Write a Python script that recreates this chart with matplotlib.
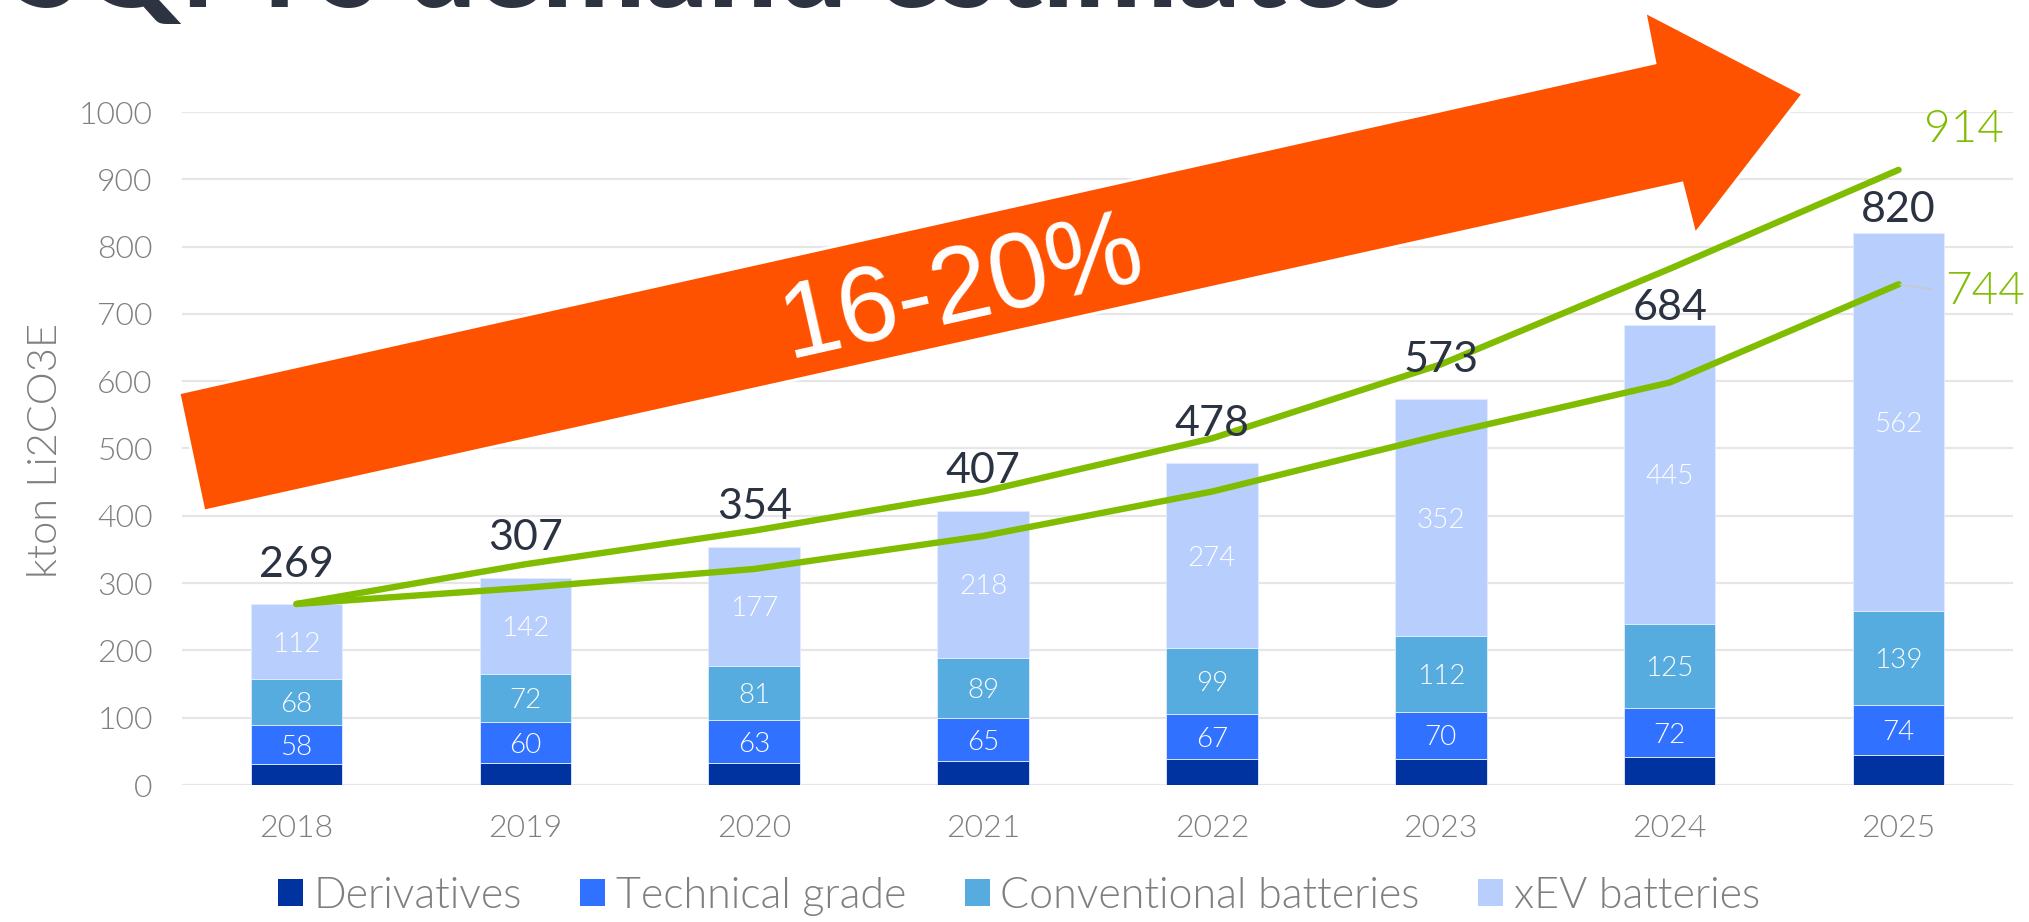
import matplotlib
matplotlib.use("Agg")
import matplotlib.pyplot as plt
import numpy as np
from matplotlib.patches import Polygon, Patch

# data (kton Li2CO3E)
years = ["2018", "2019", "2020", "2021", "2022", "2023", "2024", "2025"]
derivatives = [31, 33, 33, 35, 38, 39, 42, 45]
technical = [58, 60, 63, 65, 67, 70, 72, 74]
conventional = [68, 72, 81, 89, 99, 112, 125, 139]
xev = [112, 142, 177, 218, 274, 352, 445, 562]
totals = [269, 307, 354, 407, 478, 573, 684, 820]
high_case = [269, 328, 378, 436, 515, 625, 767, 914]
low_case = [269, 293, 321, 370, 436, 520, 598, 744]
series_names = ["Derivatives", "Technical grade", "Conventional batteries", "xEV batteries"]
growth_text = "16-20%"
title = "SQM's demand estimates"

colors = ["#0033A0", "#3072FF", "#56ABDF", "#B8CEFC"]
green = "#80BC00"
grey = "#7F7F7F"
dark = "#2B3242"
orange = "#FF5200"
LIGHT = 300  # Lato Light (the named 'light' picks Lato Thin)

W, H = 2029, 922
plt.rcParams["font.family"] = ["Lato", "DejaVu Sans"]

fig = plt.figure(figsize=(W / 100, H / 100), dpi=100)
ax = fig.add_axes([182 / W, 1 - 785 / H, 1831 / W, 673 / H])

x = np.arange(len(years))
bottom = np.zeros(len(years))
for vals, col, name in zip([derivatives, technical, conventional, xev], colors, series_names):
    ax.bar(x, vals, 0.4, bottom=bottom, color=col, edgecolor="#E4ECFF", linewidth=0.6, zorder=2)
    if name != "Derivatives":
        for xi, b, v in zip(x, bottom, vals):
            ax.annotate(str(v), xy=(xi, b + v / 2), xytext=(0, -10), textcoords="offset pixels",
                        ha="center", va="baseline", color="white",
                        fontsize=20, fontweight=LIGHT, zorder=4)
    bottom += np.array(vals)

# totals above the bars (gap to baseline in px; the last two sit lower, as in the original)
label_gap = [27, 28, 28, 28, 27, 27, 5, 11]
for xi, t, p in zip(x, totals, label_gap):
    ax.annotate(str(t), xy=(xi, t), xytext=(0, p), textcoords="offset pixels",
                ha="center", va="baseline", fontsize=31, color=dark, zorder=5)

ax.plot(x, high_case, color=green, lw=4.6, zorder=3, solid_capstyle="round", solid_joinstyle="round")
ax.plot(x, low_case, color=green, lw=4.6, zorder=3, solid_capstyle="round", solid_joinstyle="round")
ax.annotate(str(high_case[-1]), xy=(x[-1], high_case[-1]), xytext=(25, 40), textcoords="offset pixels",
            ha="left", va="center", fontsize=33, fontweight=LIGHT, color=green, annotation_clip=False)
ax.annotate(str(low_case[-1]), xy=(x[-1], low_case[-1]), xytext=(47, -7), textcoords="offset pixels",
            ha="left", va="center", fontsize=33, fontweight=LIGHT, color=green, annotation_clip=False,
            arrowprops=dict(arrowstyle="-", color="#C8C8C8", lw=1, shrinkA=7, shrinkB=1, relpos=(0, 0.5)))

ax.set_xlim(-0.5, len(years) - 0.5)
ax.set_ylim(0, 1000)
ax.set_yticks(range(0, 1001, 100))
ax.set_xticks(x)
ax.set_xticklabels(years)
ax.grid(axis="y", color="#E6E6E6", lw=1.6)
ax.set_axisbelow(True)
for s in ax.spines.values():
    s.set_visible(False)
ax.tick_params(axis="y", length=0, labelsize=23, labelcolor=grey, pad=21)
ax.tick_params(axis="x", length=0, labelsize=23, labelcolor=grey, pad=21)
for lab in ax.get_xticklabels() + ax.get_yticklabels():
    lab.set_fontweight(LIGHT)

fig.text(46 / W, 1 - 450 / H, "kton Li2CO3E", rotation=90, ha="center", va="center",
         fontsize=30, fontweight=LIGHT, color=grey)

# big orange growth arrow (figure pixel outline)
arrow_px = [(179, 393), (1655, 63), (1645, 12), (1803, 94), (1695, 234), (1682, 183), (204, 511)]
arrow = Polygon([(px / W, 1 - py / H) for px, py in arrow_px], closed=True,
                transform=fig.transFigure, facecolor=orange, edgecolor="white", lw=2, zorder=6)
fig.add_artist(arrow)
fig.text(789 / W, 1 - 358 / H, growth_text, rotation=12.7, rotation_mode="anchor",
         ha="left", va="baseline", fontsize=77, color="white",
         family=["Liberation Sans", "DejaVu Sans"], zorder=7)

# title, mostly cut off by the top edge
t = fig.text(14 / W, 1 - 7 / H, title, ha="left", va="baseline", fontsize=80,
             fontweight="black", color="#2D3340")
fig.canvas.draw()
w = t.get_window_extent().width
t.set_fontsize(80 * 1392 / w)

handles = [Patch(facecolor=c, edgecolor="none") for c in colors]
fig.legend(handles, series_names, loc="center", bbox_to_anchor=(1019 / W, 1 - 896 / H), ncol=4,
           frameon=False, prop={"weight": LIGHT, "size": 31},
           handlelength=0.58, handleheight=0.58, handletextpad=0.25, columnspacing=1.35,
           labelcolor=grey, borderpad=0)

fig.savefig("out.png", dpi=100)
